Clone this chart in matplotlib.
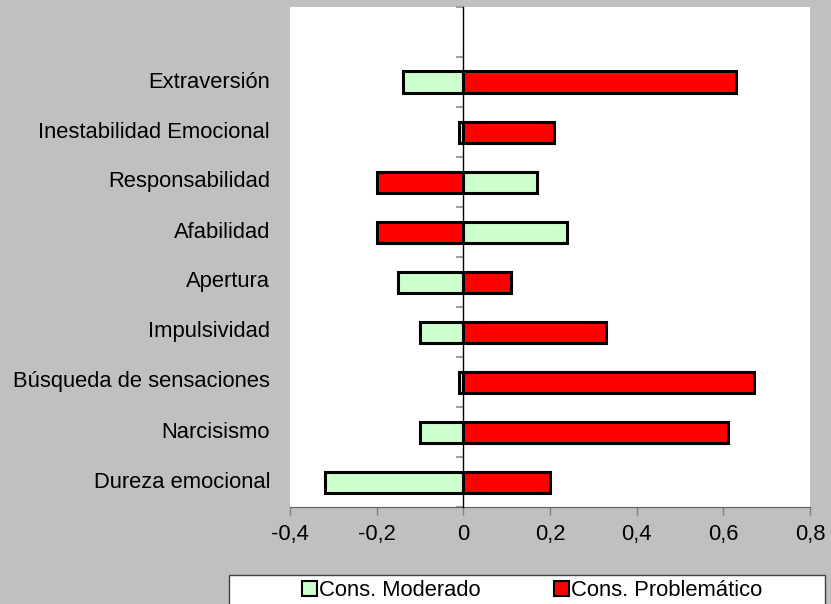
import matplotlib
matplotlib.use("Agg")
import matplotlib.pyplot as plt
from matplotlib.patches import Patch, Rectangle
from matplotlib.transforms import blended_transform_factory

plt.rcParams["font.family"] = ["Liberation Sans", "DejaVu Sans"]

# top to bottom
categories = [
    "Extraversión",
    "Inestabilidad Emocional",
    "Responsabilidad",
    "Afabilidad",
    "Apertura",
    "Impulsividad",
    "Búsqueda de sensaciones",
    "Narcisismo",
    "Dureza emocional",
]
moderado = [-0.14, -0.01, 0.17, 0.24, -0.15, -0.10, -0.01, -0.10, -0.32]
problematico = [0.63, 0.21, -0.20, -0.20, 0.11, 0.33, 0.67, 0.61, 0.20]
xticks = [-0.4, -0.2, 0, 0.2, 0.4, 0.6, 0.8]
series_names = ["Cons. Moderado", "Cons. Problemático"]

GREEN = "#CCFFCC"
RED = "#FF0000"
BG = "#C0C0C0"
FS = 15.8

fig = plt.figure(figsize=(8.31, 6.04), dpi=100, facecolor=BG)
ax = fig.add_axes([290 / 831, 1 - 507 / 604, 520 / 831, 500 / 604])
ax.set_facecolor("white")

n = len(categories)
ypos = [n - 1 - i for i in range(n)]
ax.barh(ypos, moderado, height=0.42, color=GREEN, edgecolor="black", linewidth=2.2, zorder=3)
ax.barh(ypos, problematico, height=0.42, color=RED, edgecolor="black", linewidth=2.2, zorder=3)

ax.set_xlim(-0.4, 0.8)
ax.set_ylim(-0.5, n + 0.5)

# vertical axis at zero with small boundary ticks
for side in ["top", "right"]:
    ax.spines[side].set_visible(False)
ax.spines["left"].set_position(("data", 0))
ax.spines["left"].set_color("black")
ax.spines["left"].set_linewidth(1)
ax.spines["left"].set_zorder(4)
ax.spines["bottom"].set_color("#606060")
ax.set_yticks([k - 0.5 for k in range(n + 2)])
ax.set_yticklabels([])
ax.tick_params(axis="y", length=5, width=1.5, color="#A0A0A0", direction="out")

ax.set_xticks(xticks)
ax.set_xticklabels([f"{v:g}".replace(".", ",") for v in xticks], fontsize=FS)
ax.tick_params(axis="x", length=6, width=1, color="#808080", pad=6)

trans = blended_transform_factory(fig.transFigure, ax.transData)
for y, name in zip(ypos, categories):
    ax.text(270 / 831, y, name, transform=trans, ha="right", va="center", fontsize=FS, color="black")

# legend box runs off the bottom edge of the figure
fig.patches.append(Rectangle((229 / 831, -0.05), (825 - 229) / 831, 0.05 + 29 / 604,
                             transform=fig.transFigure, facecolor="white", edgecolor="#404040",
                             linewidth=1, zorder=1))
handles = [Patch(facecolor=GREEN, edgecolor="black", linewidth=1.5),
           Patch(facecolor=RED, edgecolor="black", linewidth=1.5)]
leg = fig.legend(handles, series_names, loc="center left", bbox_to_anchor=(302 / 831, 1 - 591 / 604),
                 ncol=2, fontsize=FS, frameon=False, handlelength=0.68, handleheight=0.68,
                 handletextpad=0.1, columnspacing=3.35, borderpad=0, borderaxespad=0)
leg.set_zorder(2)

fig.savefig("out.png", dpi=100, facecolor=BG)
